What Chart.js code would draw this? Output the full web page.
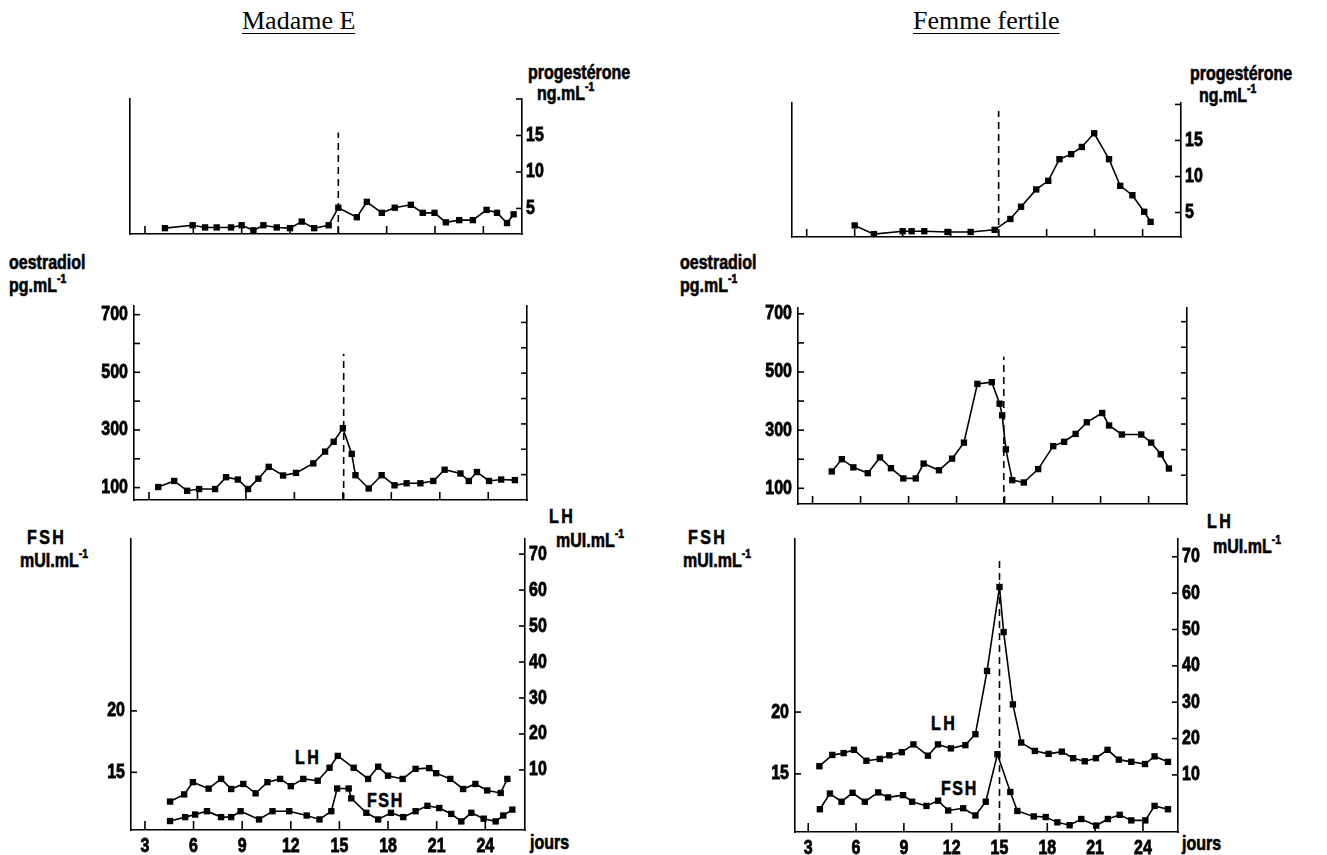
<!DOCTYPE html>
<html>
<head>
<meta charset="utf-8">
<script src="https://cdn.jsdelivr.net/npm/chart.js@4.4.1/dist/chart.umd.min.js"></script>
<style>
  body { margin: 0; background: #fff; width: 1327px; height: 855px; overflow: hidden; position: relative; }
  canvas { position: absolute; }
  .t { position: absolute; font-family: "Liberation Sans", Arial, sans-serif;
       font-weight: bold; font-size: 20px; line-height: 22px; color: #000; white-space: nowrap;
       -webkit-text-stroke: 0.6px #000;
       transform: scaleX(0.8); transform-origin: 0 0; }
  .t sup { font-size: 13px; line-height: 0; vertical-align: 9px; }
  .ttl { position: absolute; font-family: "Liberation Serif", "Times New Roman", serif; font-size: 26px; line-height: 26px;
         text-decoration: underline; text-decoration-thickness: 1px; text-underline-offset: 4px; color: #000; }
</style>
</head>
<body>
<div class="ttl" style="left:242px;top:8px">Madame E</div>
<div class="ttl" style="left:913px;top:8px">Femme fertile</div>

<div class="t" style="left:528px;top:61px">progestérone</div>
<div class="t" style="left:537px;top:82px">ng.mL<sup>-1</sup></div>
<div class="t" style="left:1190px;top:62px">progestérone</div>
<div class="t" style="left:1199px;top:84px">ng.mL<sup>-1</sup></div>

<div class="t" style="left:9px;top:251px">oestradiol</div>
<div class="t" style="left:9px;top:274px">pg.mL<sup>-1</sup></div>
<div class="t" style="left:680px;top:251px">oestradiol</div>
<div class="t" style="left:680px;top:274px">pg.mL<sup>-1</sup></div>

<div class="t" style="left:27px;top:526px;letter-spacing:3px">FSH</div>
<div class="t" style="left:20px;top:549px">mUI.mL<sup>-1</sup></div>
<div class="t" style="left:688px;top:526px;letter-spacing:3px">FSH</div>
<div class="t" style="left:683px;top:549px">mUI.mL<sup>-1</sup></div>

<div class="t" style="left:549px;top:505px;letter-spacing:3px">LH</div>
<div class="t" style="left:556px;top:529px">mUI.mL<sup>-1</sup></div>
<div class="t" style="left:1207px;top:510px;letter-spacing:3px">LH</div>
<div class="t" style="left:1213px;top:535px">mUI.mL<sup>-1</sup></div>

<div class="t" style="left:295px;top:746px;letter-spacing:3px">LH</div>
<div class="t" style="left:367px;top:789px;letter-spacing:2px">FSH</div>
<div class="t" style="left:931px;top:712px;letter-spacing:3px">LH</div>
<div class="t" style="left:941px;top:777px;letter-spacing:2px">FSH</div>

<div class="t" style="left:530px;top:831px">jours</div>
<div class="t" style="left:1182px;top:832px">jours</div>

<script>
// ---- data (day of cycle, value) ----
const dayTicks = [3, 6, 9, 12, 15, 18, 21, 24];
const ovulationDay = 15;

// progesterone ng/mL
const madameProgDays = [4.24, 5.96, 6.73, 7.45, 8.34, 9.0, 9.73, 10.35, 11.18, 12.0, 12.73, 13.5, 14.4, 15.0, 16.15, 16.77, 17.7, 18.5, 19.5, 20.24, 20.97, 21.67, 22.5, 23.35, 24.2, 24.85, 25.47, 25.88];
const madameProg = [2.3, 2.7, 2.4, 2.4, 2.4, 2.7, 2.0, 2.7, 2.4, 2.3, 3.2, 2.3, 2.7, 5.1, 3.8, 5.9, 4.4, 5.1, 5.5, 4.4, 4.4, 3.1, 3.4, 3.4, 4.8, 4.4, 3.0, 4.2];
const fertileProgDays = [6.0, 7.2, 9.0, 9.56, 10.35, 11.8, 13.25, 14.75, 15.73, 16.4, 17.35, 18.1, 18.8, 19.53, 20.2, 20.97, 21.9, 22.6, 23.36, 24.1, 24.5];
const fertileProg = [3.2, 2.0, 2.4, 2.4, 2.4, 2.3, 2.3, 2.6, 4.1, 5.8, 8.2, 9.4, 12.4, 13.1, 14.1, 16.0, 12.4, 8.7, 7.4, 5.1, 3.7];
const progTicks = [5, 10, 15, 20];
const progLabels = [5, 10, 15];
const progDashTop = [15.4, 19.1];

// oestradiol pg/mL
const madameOeDays = [3.57, 4.56, 5.36, 6.1, 7.09, 7.77, 8.5, 9.13, 9.77, 10.41, 11.3, 12.1, 13.17, 13.9, 14.43, 15.0, 15.55, 15.78, 16.6, 17.4, 18.2, 18.95, 19.8, 20.6, 21.3, 22.28, 22.8, 23.3, 24.05, 24.8, 25.65];
const madameOe = [102, 123, 89, 95, 95, 136, 128, 95, 131, 172, 142, 151, 184, 225, 259, 306, 217, 143, 97, 143, 108, 115, 115, 123, 162, 149, 123, 154, 123, 128, 126];
const fertileOeDays = [4.2, 4.83, 5.55, 6.45, 7.21, 7.9, 8.67, 9.45, 9.94, 10.9, 11.72, 12.46, 13.3, 14.2, 14.69, 14.85, 15.08, 15.48, 16.2, 17.1, 18.04, 18.72, 19.44, 20.14, 21.1, 21.53, 22.33, 23.54, 24.16, 24.76, 25.27];
const fertileOe = [158, 200, 172, 152, 206, 169, 134, 134, 185, 162, 202, 257, 459, 465, 391, 351, 234, 128, 120, 166, 245, 260, 287, 327, 359, 316, 285, 285, 257, 217, 168];
const oeTicks = [100, 200, 300, 400, 500, 600, 700];
const oeLabels = [100, 300, 500, 700];
const oeRightTicks = [145, 233, 321, 409, 497, 585, 673];
const oeDashTop = [564, 552];

// LH and FSH mUI/mL
const madameLhDays = [4.55, 5.42, 5.96, 6.93, 7.7, 8.32, 9.07, 9.83, 10.56, 11.34, 12.0, 12.77, 13.66, 14.39, 14.9, 15.88, 16.77, 17.39, 18.0, 18.9, 19.7, 20.54, 20.97, 21.84, 22.63, 23.39, 24.12, 24.95, 25.36];
const madameLh = [1.2, 3.2, 6.6, 4.8, 7.5, 4.7, 6.1, 3.5, 6.6, 7.5, 5.5, 7.5, 7.0, 10.6, 13.9, 10.6, 7.5, 10.9, 8.4, 7.5, 10.3, 10.5, 9.1, 7.5, 4.7, 6.1, 4.3, 3.6, 7.5];
const madameFshDays = [4.55, 5.48, 6.1, 6.83, 7.7, 8.32, 8.9, 10.04, 10.87, 11.9, 12.98, 13.77, 14.5, 14.86, 15.57, 15.73, 16.66, 17.39, 18.18, 18.94, 19.7, 20.43, 21.16, 21.9, 22.52, 23.14, 23.9, 24.64, 25.11, 25.67];
const madameFsh = [11.03, 11.35, 11.56, 11.83, 11.35, 11.35, 11.83, 11.16, 11.83, 11.83, 11.48, 11.16, 11.83, 13.68, 13.68, 12.88, 11.7, 11.16, 11.7, 11.35, 11.83, 12.27, 12.09, 11.61, 11.0, 11.7, 11.22, 11.0, 11.48, 11.96];
const fertileLhDays = [3.7, 4.51, 5.22, 5.87, 6.65, 7.49, 8.09, 8.87, 9.6, 10.51, 11.14, 11.95, 12.86, 13.49, 14.22, 15.0, 15.26, 15.84, 16.36, 17.22, 18.08, 18.91, 19.62, 20.35, 21.05, 21.78, 22.49, 23.27, 24.13, 24.73, 25.57];
const fertileLh = [12.4, 15.5, 16.0, 16.9, 13.9, 14.4, 15.4, 16.25, 18.4, 15.3, 18.4, 17.3, 18.2, 21.2, 38.6, 61.7, 49.3, 29.4, 18.9, 16.6, 15.8, 16.4, 14.6, 13.75, 14.6, 16.9, 14.2, 13.6, 13.0, 15.1, 13.6];
const fertileFshDays = [3.73, 4.36, 5.09, 5.78, 6.55, 7.39, 8.01, 8.95, 9.52, 10.42, 11.15, 11.78, 12.72, 13.49, 14.14, 14.87, 15.68, 16.12, 17.15, 17.9, 18.63, 19.4, 20.13, 21.07, 21.8, 22.54, 23.27, 24.15, 24.73, 25.57];
const fertileFsh = [12.14, 13.41, 12.75, 13.47, 12.75, 13.5, 13.1, 13.28, 12.75, 12.41, 12.83, 12.04, 12.22, 11.64, 12.75, 16.59, 13.54, 12.0, 11.56, 11.51, 11.08, 10.85, 11.35, 10.82, 11.35, 11.69, 11.24, 11.24, 12.41, 12.14];
const fshTicks = [15, 20];
const lhTicks = [10, 20, 30, 40, 50, 60, 70];
const lhDashTop = 70.2;

// ---- layout ----
const tickFont = { family: '"Liberation Sans", Arial, sans-serif', size: 20, weight: 'bold' };
const SQUEEZE = 0.8; // the figure uses a condensed bold face
const ML = 80, MR = 80, MT = 10, MB = 24;

// draw canvas text horizontally condensed
const condensed = {
    id: 'condensed',
    beforeInit(chart) {
        const ctx = chart.ctx;
        ['fillText', 'strokeText'].forEach(name => {
            const orig = ctx[name];
            ctx[name] = function (text, x, y, maxWidth) {
                this.save();
                this.translate(x, y);
                this.scale(SQUEEZE, 1);
                if (maxWidth === undefined) orig.call(this, text, 0, 0);
                else orig.call(this, text, 0, 0, maxWidth / SQUEEZE);
                this.restore();
            };
        });
    }
};

// tick marks drawn inward from each axis, like the original figure
const innerTicks = {
    id: 'innerTicks',
    afterDraw(chart, args, opts) {
        const ctx = chart.ctx;
        ctx.save();
        ctx.strokeStyle = '#000';
        ctx.lineWidth = 1.6;
        for (const id in opts) {
            const s = chart.scales[id];
            const len = opts[id];
            if (!s || typeof len !== 'number') continue;
            s.ticks.forEach(t => {
                const p = s.getPixelForValue(t.value);
                ctx.beginPath();
                if (s.axis === 'x') {
                    ctx.moveTo(p, s.top);
                    ctx.lineTo(p, s.top - len);
                } else if (s.position === 'left') {
                    ctx.moveTo(s.right, p);
                    ctx.lineTo(s.right + len, p);
                } else {
                    ctx.moveTo(s.left, p);
                    ctx.lineTo(s.left - len, p);
                }
                ctx.stroke();
            });
        }
        ctx.restore();
    }
};

function makeCanvas(box) {
    const c = document.createElement('canvas');
    c.width = box.R - box.L + ML + MR;
    c.height = box.B - box.T + MT + MB;
    c.style.left = (box.L - ML) + 'px';
    c.style.top = (box.T - MT) + 'px';
    document.body.appendChild(c);
    return c;
}

function series(days, vals, axis) {
    return {
        data: days.map((d, i) => ({ x: d, y: vals[i] })),
        yAxisID: axis,
        borderColor: '#000',
        borderWidth: 1.6,
        pointStyle: 'rect',
        pointRadius: 4.5,
        pointBackgroundColor: '#000',
        pointBorderWidth: 0,
        tension: 0
    };
}

function dashed(day, from, to, axis) {
    return {
        data: [{ x: day, y: from }, { x: day, y: to }],
        yAxisID: axis,
        borderColor: '#000',
        borderWidth: 1.6,
        borderDash: [7, 5],
        pointRadius: 0
    };
}

function yAxis(pos, min, max, ticks, labels, width) {
    return {
        type: 'linear',
        position: pos,
        min: min,
        max: max,
        afterBuildTicks: s => { s.ticks = ticks.map(v => ({ value: v })); },
        afterFit: s => { s.width = width; },
        ticks: {
            display: labels !== null,
            font: tickFont,
            color: '#000',
            textStrokeColor: '#000',
            textStrokeWidth: 0.8,
            padding: pos === 'left' ? 6 : 4,
            callback: v => (labels && labels.includes(v)) ? String(v) : ''
        },
        grid: { display: false, drawTicks: false },
        border: { display: true, color: '#000', width: 1.6 }
    };
}

function xAxis(min, max, showLabels) {
    return {
        type: 'linear',
        min: min,
        max: max,
        afterBuildTicks: s => { s.ticks = dayTicks.map(v => ({ value: v })); },
        afterFit: s => { s.height = MB; },
        ticks: {
            display: showLabels, font: tickFont, color: '#000',
            textStrokeColor: '#000', textStrokeWidth: 0.8,
            padding: 4, maxRotation: 0, autoSkip: false
        },
        grid: { display: false, drawTicks: false },
        border: { display: true, color: '#000', width: 1.6 }
    };
}

function panel(box, datasets, scales, tickLens) {
    return new Chart(makeCanvas(box), {
        type: 'line',
        data: { datasets: datasets },
        options: {
            responsive: false,
            animation: false,
            layout: { padding: { top: MT, left: 0, right: 0, bottom: 0 }, autoPadding: false },
            plugins: { legend: { display: false }, tooltip: { enabled: false }, innerTicks: tickLens },
            scales: scales
        },
        plugins: [condensed, innerTicks]
    });
}

// progesterone row
panel({ L: 130, R: 522, T: 93, B: 234 },
    [series(madameProgDays, madameProg, 'yR'), dashed(ovulationDay, 1.5, progDashTop[0], 'yR')],
    { x: xAxis(2.07, 26.4, false), yL: yAxis('left', 1.5, 20, progTicks, null, ML), yR: yAxis('right', 1.5, 20, progTicks, progLabels, MR) },
    { x: 8, yR: 6 });
panel({ L: 792, R: 1181, T: 97, B: 237 },
    [series(fertileProgDays, fertileProg, 'yR'), dashed(ovulationDay, 1.6, progDashTop[1], 'yR')],
    { x: xAxis(2.08, 26.4, false), yL: yAxis('left', 1.6, 20.2, progTicks, null, ML), yR: yAxis('right', 1.6, 20.2, progTicks, progLabels, MR) },
    { x: 8, yR: 6 });

// oestradiol row
panel({ L: 134, R: 527, T: 298, B: 500 },
    [series(madameOeDays, madameOe, 'y'), dashed(ovulationDay + 0.05, 57, oeDashTop[0], 'y')],
    { x: xAxis(2.07, 26.4, false), y: yAxis('left', 57, 730, oeTicks, oeLabels, ML), y2: yAxis('right', 57, 730, oeRightTicks, null, MR) },
    { x: 8, y: 6, y2: 6 });
panel({ L: 798, R: 1187, T: 300, B: 504 },
    [series(fertileOeDays, fertileOe, 'y'), dashed(ovulationDay - 0.05, 46, oeDashTop[1], 'y')],
    { x: xAxis(2.09, 26.4, false), y: yAxis('left', 46, 720, oeTicks, oeLabels, ML), y2: yAxis('right', 46, 720, oeRightTicks, null, MR) },
    { x: 8, y: 6, y2: 6 });

// LH / FSH row
panel({ L: 131, R: 525, T: 531, B: 830 },
    [series(madameLhDays, madameLh, 'yLH'), series(madameFshDays, madameFsh, 'yF')],
    { x: xAxis(2.14, 26.45, true), yF: yAxis('left', 10.3, 34, fshTicks, fshTicks, ML), yLH: yAxis('right', -6.7, 74.2, lhTicks, lhTicks, MR) },
    { x: 9, yF: 6, yLH: 6 });
panel({ L: 795, R: 1178, T: 531, B: 832 },
    [series(fertileLhDays, fertileLh, 'yLH'), series(fertileFshDays, fertileFsh, 'yF'), dashed(ovulationDay, -5.7, lhDashTop, 'yLH')],
    { x: xAxis(2.17, 26.2, true), yF: yAxis('left', 10.3, 34, fshTicks, fshTicks, ML), yLH: yAxis('right', -5.7, 74.9, lhTicks, lhTicks, MR) },
    { x: 9, yF: 6, yLH: 6 });
</script>
</body>
</html>
